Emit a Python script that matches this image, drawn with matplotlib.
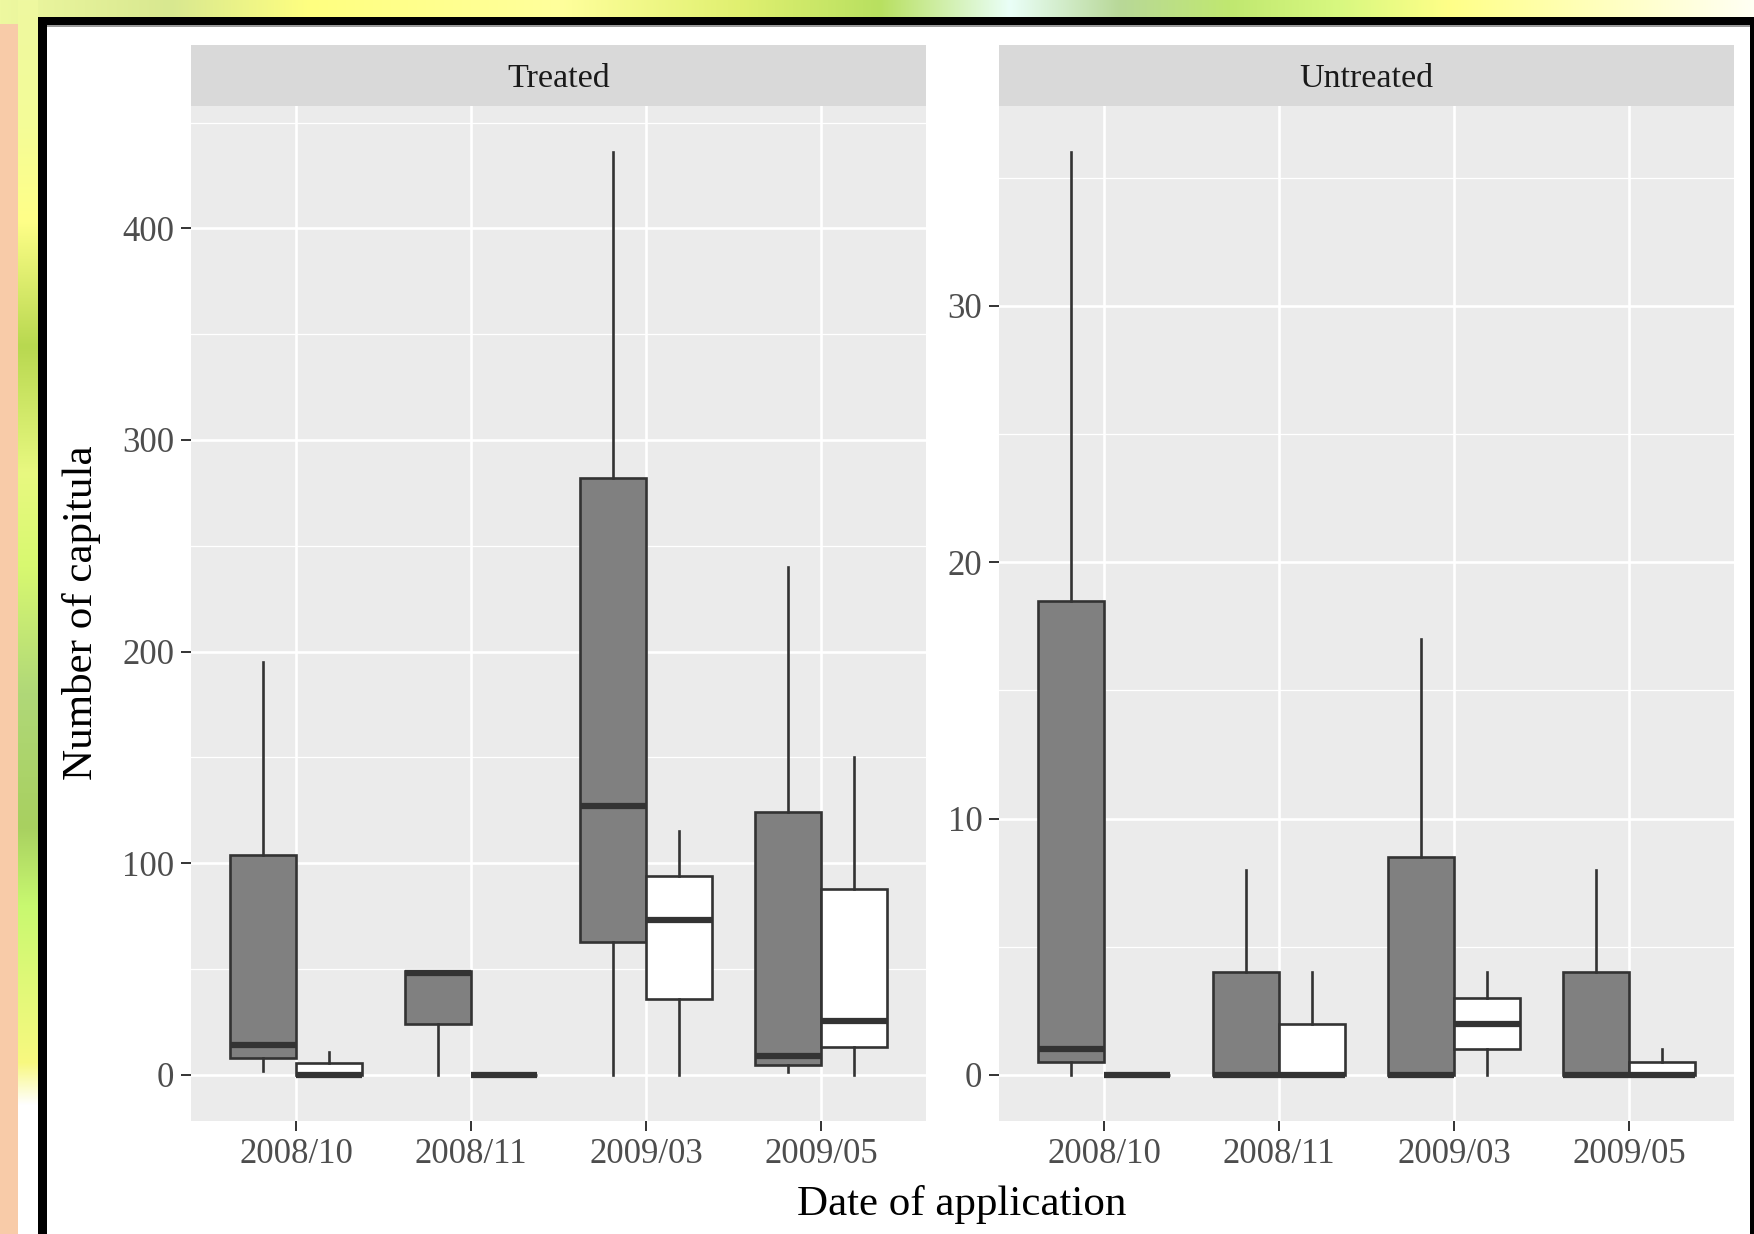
import numpy as np
import matplotlib
matplotlib.use("Agg")
import matplotlib.pyplot as plt
from matplotlib.patches import Rectangle
from matplotlib.colors import to_rgb

W, H = 1754, 1234
plt.rcParams['font.family'] = ['Liberation Serif', 'DejaVu Serif']

# data
dates = ['2008/10', '2008/11', '2009/03', '2009/05']

# Treated panel, dark boxes
tr_a_lo = [2, 0, 0, 1.5]
tr_a_q1 = [8, 24, 63, 4.5]
tr_a_med = [14, 48, 127, 9]
tr_a_q3 = [104, 49, 282, 124]
tr_a_hi = [195, 49, 436, 240]
# Treated panel, white boxes
tr_b_lo = [0, 0, 0, 0]
tr_b_q1 = [0, 0, 36, 13]
tr_b_med = [0, 0, 73, 25.5]
tr_b_q3 = [5.5, 0, 94, 88]
tr_b_hi = [11, 0, 115, 150]

# Untreated panel, dark boxes
un_a_lo = [0, 0, 0, 0]
un_a_q1 = [0.5, 0, 0, 0]
un_a_med = [1, 0, 0, 0]
un_a_q3 = [18.5, 4, 8.5, 4]
un_a_hi = [36, 8, 17, 8]
# Untreated panel, white boxes
un_b_lo = [0, 0, 0, 0]
un_b_q1 = [0, 0, 1, 0]
un_b_med = [0, 0, 2, 0]
un_b_q3 = [0, 2, 3, 0.5]
un_b_hi = [0, 4, 4, 1]


def px(x0, y0, x1, y1):
    return [x0 / W, 1 - y1 / H, (x1 - x0) / W, (y1 - y0) / H]


def gradient(stops, n):
    pos = np.array([s[0] for s in stops], float)
    cols = np.array([to_rgb(s[1]) for s in stops])
    t = np.linspace(pos[0], pos[-1], n)
    return np.stack([np.interp(t, pos, cols[:, k]) for k in range(3)], axis=-1)


fig = plt.figure(figsize=(W / 100, H / 100), dpi=100, facecolor='white')

# decorative frame around the picture
bg = fig.add_axes([0, 0, 1, 1], zorder=-10)
bg.set_xlim(0, W)
bg.set_ylim(H, 0)
bg.axis('off')
top_stops = [(0, '#eef8a0'), (170, '#d8e890'), (310, '#ffff80'), (560, '#ffff9c'),
             (740, '#e0f070'), (880, '#b8e060'), (1010, '#eafff8'), (1120, '#b8d898'),
             (1230, '#c0e870'), (1340, '#d8f880'), (1450, '#ffff88'), (1754, '#fffff4')]
top = gradient(top_stops, W)
bg.imshow(top[np.newaxis, :, :], extent=[0, W, 25, 0], aspect='auto')
left_stops = [(0, '#eef8a0'), (120, '#f4fc98'), (220, '#ffff88'), (346, '#b8d850'),
              (472, '#e8f880'), (567, '#d8f870'), (693, '#b0d878'), (827, '#a8d060'),
              (905, '#c8f870'), (1063, '#f8f880'), (1105, '#ffffff'), (1234, '#ffffff')]
left = gradient(left_stops, H)
bg.imshow(left[:, np.newaxis, :], extent=[18, 38, H, 0], aspect='auto')
bg.add_patch(Rectangle((0, 24), 18, H - 24, color='#f8cba8', lw=0))
bg.add_patch(Rectangle((38, 17), W - 38, 8, color='black', lw=0))
bg.add_patch(Rectangle((38, 17), 9, H - 17, color='black', lw=0))
bg.add_patch(Rectangle((1750, 17), 4, H - 17, color='black', lw=0))
bg.add_patch(Rectangle((47, 25), W - 51, 1.5, color='#9a9a9a', lw=0))


def stats_list(lo, q1, med, q3, hi):
    return [dict(whislo=lo[i], q1=q1[i], med=med[i], q3=q3[i], whishi=hi[i], fliers=[])
            for i in range(len(lo))]


def panel(rect, title, groups, ylim, major, minor):
    ax = fig.add_axes(px(*rect))
    ax.set_facecolor('#ebebeb')
    x = np.arange(1, len(dates) + 1)
    for offs, fill, st in groups:
        ax.bxp(st, positions=x + offs, widths=0.375, patch_artist=True,
               showfliers=False, showcaps=False,
               boxprops=dict(facecolor=fill, edgecolor='#333333', linewidth=1.9),
               whiskerprops=dict(color='#333333', linewidth=1.9),
               medianprops=dict(color='#333333', linewidth=4.5, solid_capstyle='butt'),
               manage_ticks=False)
    ax.set_xlim(0.4, len(dates) + 0.6)
    ax.set_ylim(*ylim)
    ax.set_xticks(x)
    ax.set_xticklabels(dates)
    ax.set_yticks(major)
    ax.set_yticks(minor, minor=True)
    ax.set_xticks([], minor=True)
    ax.grid(True, which='major', color='white', linewidth=1.9)
    ax.grid(True, which='minor', axis='y', color='white', linewidth=0.9)
    ax.set_axisbelow(True)
    for s in ax.spines.values():
        s.set_visible(False)
    ax.tick_params(which='major', length=7, width=1.4, color='#333333',
                   labelcolor='#4d4d4d', labelsize=25, pad=5)
    ax.tick_params(which='minor', length=0)
    # facet strip
    sx = fig.add_axes(px(rect[0], 45, rect[2], rect[1]))
    sx.set_facecolor('#d9d9d9')
    sx.set_xticks([])
    sx.set_yticks([])
    for s in sx.spines.values():
        s.set_visible(False)
    sx.text(0.5, 0.45, title, ha='center', va='center', fontsize=24.5,
            color='#1a1a1a', transform=sx.transAxes)
    return ax


ax1 = panel((191, 106, 926, 1121), 'Treated',
            [(-0.1875, '#808080', stats_list(tr_a_lo, tr_a_q1, tr_a_med, tr_a_q3, tr_a_hi)),
             (0.1875, 'white', stats_list(tr_b_lo, tr_b_q1, tr_b_med, tr_b_q3, tr_b_hi))],
            (-21.8, 457.8), [0, 100, 200, 300, 400], [50, 150, 250, 350, 450])
ax2 = panel((999, 106, 1734, 1121), 'Untreated',
            [(-0.1875, '#808080', stats_list(un_a_lo, un_a_q1, un_a_med, un_a_q3, un_a_hi)),
             (0.1875, 'white', stats_list(un_b_lo, un_b_q1, un_b_med, un_b_q3, un_b_hi))],
            (-1.8, 37.8), [0, 10, 20, 30], [5, 15, 25, 35])

fig.text(962 / W, 1 - 1204 / H, 'Date of application', ha='center', va='center',
         fontsize=31, color='black')
fig.text(82 / W, 1 - 613 / H, 'Number of capitula', ha='center', va='center',
         rotation=90, fontsize=31, color='black')

fig.savefig('out.png', dpi=100, facecolor='white')
